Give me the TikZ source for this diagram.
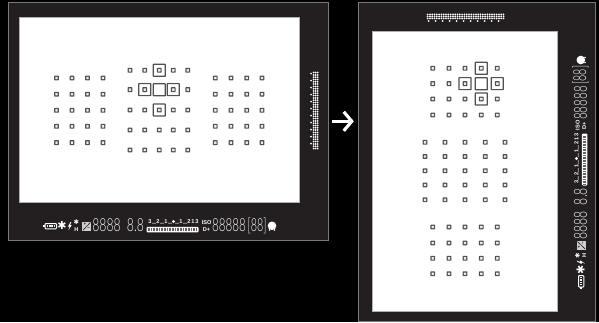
\documentclass[tikz,border=0pt]{standalone}
\usepackage{fontspec}
\usetikzlibrary{arrows.meta}
\setmainfont{Liberation Sans}
\newfontfamily\lcdfont{Lato Light}
\newfontfamily\symfont{DejaVu Sans}
\definecolor{framebg}{HTML}{231F20}
\definecolor{frameedge}{HTML}{7A7A7A}
\definecolor{afgray}{HTML}{505050}
\definecolor{lcdgray}{HTML}{F4F4F4}
\tikzset{
  framebox/.style={draw=frameedge,fill=framebg,line width=1pt,inner sep=0pt,anchor=center},
  windowbox/.style={draw=frameedge!60!white,fill=white,line width=.8pt},
  afouter/.style={fill=afgray,rounded corners=.6pt},
  afinner/.style={fill=white!92!black,rounded corners=.3pt},
  afbox/.style={draw=afgray,line width=1.2pt,rounded corners=.4pt},
  lcd/.style={text=lcdgray,inner sep=0pt,font=\lcdfont\fontsize{18}{18}\selectfont,xscale=.68,transform shape},
  tiny/.style={text=white,inner sep=0pt,font=\bfseries\fontsize{5.6}{6}\selectfont,transform shape},
  sym/.style={text=white,inner sep=0pt,font=\symfont\fontsize{11}{11}\selectfont,transform shape},
  flow/.style={draw=white,line width=3.4pt,-{Straight Barb[length=8pt,width=19pt,line width=3.2pt]}},
}
\newcommand{\dotgrid}[2]{\foreach \px in {#1}{\foreach \py in {#2}{\fill[afouter] (\px-2.4,\py-2.4) rectangle (\px+2.4,\py+2.4);\fill[afinner] (\px-1.2,\py-1.2) rectangle (\px+1.2,\py+1.2);}}}
\newcommand{\afsq}[2]{\draw[afbox] (#1-6,#2-6) rectangle (#1+6,#2+6);}
\newcommand{\afcentre}[2]{\draw[afbox,fill=white] (#1-6,#2-6) rectangle (#1+6,#2+6);}
\newcommand{\readout}{%
  % battery
  \draw[draw=white,line width=1pt,fill=framebg,rounded corners=.8pt] (45,223.6) rectangle (56.5,228.8);
  \fill[white] (43.2,225) rectangle (45,227.4);
  \foreach \bx in {47.5,49.8,52.1,54.4}{\fill[lcdgray] (\bx-.7,225) rectangle (\bx+.7,227.4);}
  % symbols
  \node[sym] at (62,225.6) {✱};
  \fill[white] (70.5,222) -- (68,226.6) -- (69.6,226.6) -- (68.4,230.2) -- (71.6,225.2) -- (70,225.2) -- (71.4,222) -- cycle;
  \node[sym,font=\symfont\fontsize{6.5}{6.5}\selectfont] at (76.3,222.6) {✱};
  \node[tiny] at (76.3,229.2) {H};
  \fill[lcdgray!85!black] (82.2,221.6) rectangle (91.2,231);
  \draw[framebg,line width=.6pt] (83,230.2) -- (90.4,222.4);
  \node[tiny,text=framebg,font=\bfseries\fontsize{4.5}{4.5}\selectfont] at (85,224) {+};
  \node[tiny,text=framebg,font=\bfseries\fontsize{4.5}{4.5}\selectfont] at (88.6,228.4) {−};
  % digit groups
  \node[lcd] at (106.5,225.5) {8888};
  \node[lcd] at (135.5,225.5) {8.8};
  \node[lcd,xscale=.95] at (229,225.5) {88888};
  \node[lcd,xscale=.88] at (257,225.5) {[88]};
  % meter scale
  \foreach \lx/\lt in {150/3,158/2,166/1,181/1,189/2,197/3}{\node[tiny] at (\lx,221.5) {\lt};}
  \node[tiny] at (193,221.5) {1};
  \fill[white] (173.5,221.5) circle (1.6);
  \foreach \tx in {153,155,161,163,169,171,176,178,184,186}{\fill[white] (\tx,223.2) circle (.6);}
  \fill[white,rounded corners=1pt] (146.5,226.8) rectangle (198.5,232.4);
  \foreach \sx in {148,149.6,...,197.5}{\draw[framebg!70!white,line width=.35pt] (\sx,227.9) -- (\sx,231.4);}
  % ISO D+
  \node[tiny] at (206.6,222.6) {ISO};
  \node[tiny] at (206.6,229.2) {D+};
  % focus indicator
  \fill[white] (272,225.8) circle (4.3);
  \fill[white] (269.5,229.9) circle (.9);
  \fill[white] (274.5,229.9) circle (.9);
  % dot strip
  \foreach \sy in {72.6,74.9,...,149}{
    \foreach \sx in {313.6,315.6,317.6}{\fill[white] (\sx,\sy) circle (1);}
  }
  \foreach \sy in {73.6,80.6,...,149}{\fill[white] (311,\sy) circle (.9);}
}
\begin{document}
\begin{tikzpicture}[x=1pt,y=-1pt]
\useasboundingbox (0,0) rectangle (599,322);
\fill[black] (0,0) rectangle (599,322);
% frames
\node[framebox,minimum width=320pt,minimum height=237.5pt] (lf) at (168,121.3) {};
\node[framebox,minimum width=236.7pt,minimum height=318.5pt] (rf) at (476.7,162) {};
\draw[windowbox] (19,17.3) rectangle (299.3,202.7);
\draw[windowbox] (372.5,31.7) rectangle (557.3,311.3);
% left frame AF points
\dotgrid{56.5,72,87.5,103}{78,94.2,110.3,126.3,142.6}
\dotgrid{215.3,231,246.7,262}{78,94.2,110.3,126.3,142.6}
\dotgrid{130,144.7,159.3,173.3,187.7}{70.3,89.6,110,130,150}
\afsq{159.3}{70.3}\afsq{144.7}{89.6}\afsq{173.3}{89.6}\afsq{159.3}{110}
\afcentre{159.3}{89.8}
% right frame AF points
\dotgrid{432.7,449,465,481.3,497.3}{68.3,83.6,99,115}
\dotgrid{425,445,465,485.3,505}{142.3,156.5,170.7,185,199.8}
\dotgrid{432.7,449,465,481.3,497.3}{227,243,258.3,273.7}
\afsq{481.3}{68.3}\afsq{465}{83.6}\afsq{497.3}{83.6}\afsq{481.3}{99}
\afcentre{481.3}{83.8}
% readouts
\readout
\begin{scope}[shift={(355,332)},rotate=90]
\readout
\end{scope}
% arrow
\draw[flow,shorten <=3.5pt,shorten >=4pt] (lf.east) -- (lf.east -| rf.west);
\end{tikzpicture}
\end{document}
